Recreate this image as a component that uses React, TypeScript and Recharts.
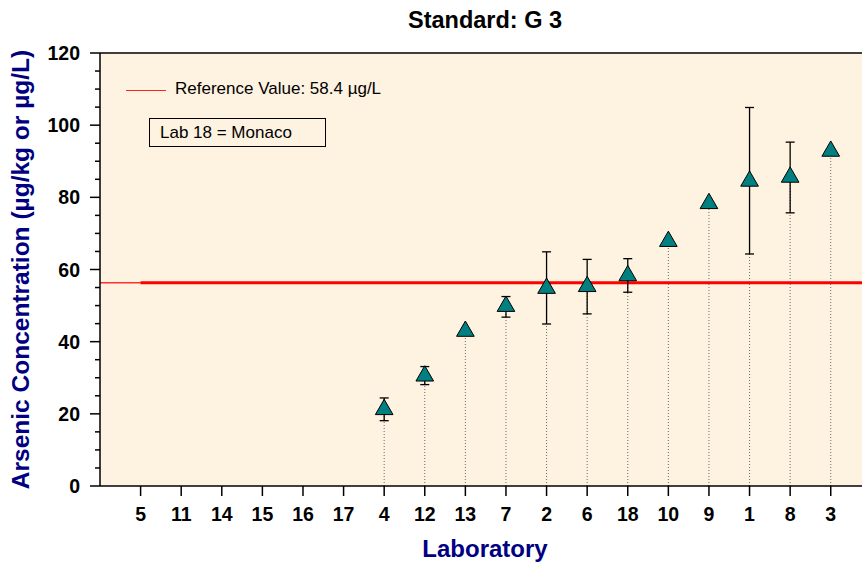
import React from 'react';
import {
  ComposedChart,
  XAxis,
  YAxis,
  ZAxis,
  Scatter,
  ErrorBar,
  ReferenceLine,
  CartesianGrid,
  Legend,
  Label,
} from 'recharts';

// laboratories in plotting order (left to right)
const labs = ['5', '11', '14', '15', '16', '17', '4', '12', '13', '7', '2', '6', '18', '10', '9', '1', '8', '3'];
// reported arsenic results, null = no result
const results = [null, null, null, null, null, null, 21.2, 30.5, 42.9, 49.8, 54.8, 55.3, 58.3, 67.8, 78.3, 84.5, 85.6, 92.8];
// lower / upper end of reported uncertainty
const lowLimits = [null, null, null, null, null, null, 18.1, 28.1, null, 46.8, 44.9, 47.7, 53.7, null, null, 64.3, 75.7, null];
const highLimits = [null, null, null, null, null, null, 24.4, 33.1, null, 52.5, 64.9, 62.8, 63.0, null, null, 104.9, 95.3, null];

const refValue = 56.3;
const refLabel = 'Reference Value: 58.4 µg/L';
const noteLabel = 'Lab 18 = Monaco';
const yTicks = [0, 5, 10, 15, 20, 25, 30, 35, 40, 45, 50, 55, 60, 65, 70, 75, 80, 85, 90, 95, 100, 105, 110, 115, 120];
const xMax = 18.77;

const points = labs
  .map((lab, i) => ({ pos: i + 1, lab, value: results[i], lo: lowLimits[i], hi: highLimits[i] }))
  .filter((d) => d.value != null) as Array<{ pos: number; lab: string; value: number; lo: number | null; hi: number | null }>;

const withErr = points
  .filter((d) => d.lo != null)
  .map((d) => ({ ...d, err: [d.value - (d.lo as number), (d.hi as number) - d.value] }));
const noErr = points.filter((d) => d.lo == null);
const drops = points.map((d) => ({ ...d, drop: [d.value, 0] }));

const NAVY = '#000080';

const YTick = (props: any) => {
  const { x, y, payload } = props;
  const major = payload.value % 20 === 0;
  if (!major) return <g />;
  return (
    <g>
      <line x1={x} x2={x - 5} y1={y} y2={y} stroke="#000" strokeWidth={1.5} />
      <text x={x - 15} y={y} dy="0.36em" textAnchor="end" fontWeight="bold" fontSize={19.5} fill="#000">
        {payload.value}
      </text>
    </g>
  );
};

const LegendBox = () => (
  <div style={{ position: 'relative', width: 260, height: 80, fontSize: 17, color: '#000' }}>
    <div style={{ position: 'absolute', left: 6, top: 13, width: 40, borderTop: '1.5px solid #ff2020' }} />
    <div style={{ position: 'absolute', left: 55, top: 2, whiteSpace: 'nowrap' }}>{refLabel}</div>
    <div
      style={{
        position: 'absolute',
        left: 29,
        top: 41,
        width: 177,
        height: 29,
        border: '1px solid #000',
        boxSizing: 'border-box',
        paddingLeft: 10,
        lineHeight: '27px',
        whiteSpace: 'nowrap',
      }}>
      {noteLabel}
    </div>
  </div>
);

export default function App() {
  return (
    <div
      style={{
        position: 'absolute',
        left: 0,
        top: 0,
        width: 862,
        height: 566,
        fontFamily: '"Liberation Sans", Arial, sans-serif',
        background: '#fff',
      }}>
      <div
        style={{
          position: 'absolute',
          left: 104,
          width: 762,
          top: 7,
          textAlign: 'center',
          fontWeight: 'bold',
          fontSize: 23.5,
          color: '#000',
        }}>
        Standard: G 3
      </div>
      <ComposedChart width={862} height={566} margin={{ top: 53, right: 0, bottom: 0, left: 0 }}>
        <CartesianGrid horizontal={false} vertical={false} fill="#FEF2E0" />
        <XAxis
          dataKey="pos"
          type="number"
          domain={[0, xMax]}
          ticks={labs.map((_, i) => i + 1)}
          interval={0}
          tickFormatter={(v: number) => labs[v - 1] ?? ''}
          height={80}
          tickSize={10}
          tickMargin={11}
          tick={{ fill: '#000', fontSize: 19.5, fontWeight: 'bold' }}
          axisLine={{ stroke: '#000', strokeWidth: 1.5 }}
          tickLine={{ stroke: '#000', strokeWidth: 1.5 }}>
          <Label
            value="Laboratory"
            position="insideBottom"
            offset={9}
            dx={4}
            fill={NAVY}
            fontSize={24}
            fontWeight="bold"
          />
        </XAxis>
        <YAxis
          dataKey="value"
          type="number"
          domain={[0, 120]}
          ticks={yTicks}
          interval={0}
          width={100}
          tickSize={5}
          tickMargin={0}
          tick={<YTick />}
          axisLine={{ stroke: '#000', strokeWidth: 1.5 }}
          tickLine={{ stroke: '#000', strokeWidth: 1.5 }}>
          <Label
            content={(p: any) => {
              const vb = p.viewBox || {};
              const cx = 20;
              const cy = vb.y + vb.height / 2;
              return (
                <text
                  x={cx}
                  y={cy}
                  transform={`rotate(-90, ${cx}, ${cy})`}
                  textAnchor="middle"
                  dominantBaseline="central"
                  fill={NAVY}
                  fontSize={24.5}
                  fontWeight="bold">
                  Arsenic Concentration (µg/kg or µg/L)
                </text>
              );
            }}
          />
        </YAxis>
        <ZAxis type="number" range={[135, 135]} />
        <ReferenceLine y={120} stroke="#000" strokeWidth={1.5} />
        <ReferenceLine y={refValue} stroke="#ff3030" strokeWidth={1.5} />
        <ReferenceLine
          segment={[
            { x: 1, y: refValue },
            { x: xMax, y: refValue },
          ]}
          stroke="#ff0000"
          strokeWidth={3}
        />
        <Scatter data={drops} dataKey="value" shape={() => <g />} isAnimationActive={false} legendType="none">
          <ErrorBar dataKey="drop" direction="y" width={0} stroke="#6a6a6a" strokeWidth={1} strokeDasharray="1 2" />
        </Scatter>
        <Scatter
          data={withErr}
          dataKey="value"
          shape="triangle"
          fill="#008080"
          stroke="#000"
          strokeWidth={1}
          isAnimationActive={false}
          legendType="none">
          <ErrorBar dataKey="err" direction="y" width={4.5} stroke="#000" strokeWidth={1.3} />
        </Scatter>
        <Scatter
          data={noErr}
          dataKey="value"
          shape="triangle"
          fill="#008080"
          stroke="#000"
          strokeWidth={1}
          isAnimationActive={false}
          legendType="none"
        />
        <Legend
          layout="horizontal"
          verticalAlign="middle"
          align="center"
          content={() => <LegendBox />}
          wrapperStyle={{ position: 'absolute', left: 120, top: 77, width: 260, height: 80 }}
        />
      </ComposedChart>
    </div>
  );
}
